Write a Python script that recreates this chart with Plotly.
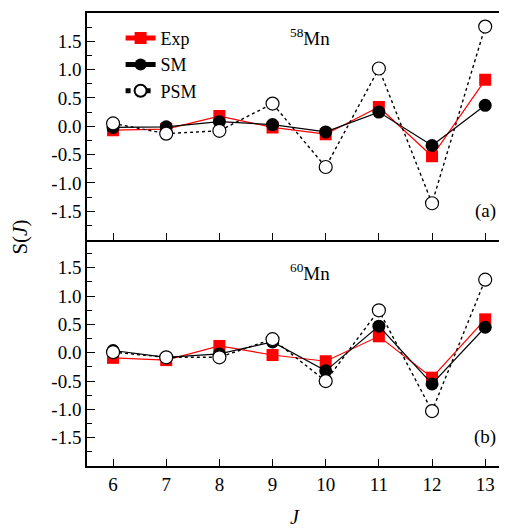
import plotly.graph_objects as go
from plotly.subplots import make_subplots

J = [6, 7, 8, 9, 10, 11, 12, 13]

# 58Mn (panel a)
exp_58 = [-0.07, -0.05, 0.18, -0.02, -0.14, 0.34, -0.53, 0.82]
sm_58 = [-0.02, -0.01, 0.08, 0.03, -0.10, 0.25, -0.34, 0.37]
psm_58 = [0.05, -0.13, -0.08, 0.40, -0.72, 1.02, -1.36, 1.76]

# 60Mn (panel b)
exp_60 = [-0.09, -0.13, 0.12, -0.04, -0.15, 0.29, -0.44, 0.59]
sm_60 = [0.04, -0.08, -0.02, 0.19, -0.32, 0.47, -0.55, 0.45]
psm_60 = [0.01, -0.08, -0.08, 0.24, -0.50, 0.75, -1.03, 1.29]

y_tickvals = [-1.5, -1.0, -0.5, 0.0, 0.5, 1.0, 1.5]
y_ticktext = ["-1.5", "-1.0", "-0.5", "0.0", "0.5", "1.0", "1.5"]

FONT = "Liberation Serif"
RED = "#ff0000"

fig = make_subplots(rows=2, cols=1, shared_xaxes=True, vertical_spacing=0)

def add_panel(row, exp, sm, psm, show):
    fig.add_trace(go.Scatter(
        x=J, y=exp, mode="lines+markers", name="Exp", showlegend=show,
        line=dict(color=RED, width=1.2),
        marker=dict(symbol="square", size=12, color=RED),
    ), row=row, col=1)
    fig.add_trace(go.Scatter(
        x=J, y=sm, mode="lines+markers", name="SM", showlegend=show,
        line=dict(color="black", width=1.2),
        marker=dict(symbol="circle", size=13, color="black"),
    ), row=row, col=1)
    fig.add_trace(go.Scatter(
        x=J, y=psm, mode="lines+markers", name="PSM", showlegend=show,
        line=dict(color="black", width=1.4, dash="dot"),
        marker=dict(symbol="circle", size=13, color="white",
                    line=dict(color="black", width=1.2)),
    ), row=row, col=1)

add_panel(1, exp_58, sm_58, psm_58, True)
add_panel(2, exp_60, sm_60, psm_60, False)

axis_common = dict(
    showline=True, linecolor="black", linewidth=1.5,
    ticks="inside", tickcolor="black", tickwidth=1.2,
    showgrid=False, zeroline=False,
    tickfont=dict(family=FONT, size=19, color="black"),
)

for r in (1, 2):
    fig.update_yaxes(
        range=[-2, 2], tickmode="array", tickvals=y_tickvals, ticktext=y_ticktext,
        ticklen=8,
        minor=dict(tickmode="linear", dtick=0.25, tick0=0, ticks="inside", ticklen=5,
                   tickcolor="black", tickwidth=1.2, showgrid=False),
        mirror=False, row=r, col=1, **axis_common,
    )
    fig.update_xaxes(
        range=[5.51, 13.41], tickmode="array", tickvals=J,
        ticktext=[str(j) for j in J], ticklen=7,
        mirror=(r == 1), row=r, col=1, **axis_common,
    )

fig.update_xaxes(showticklabels=False, row=1, col=1)

def label(text, x, y, size=19, angle=0):
    return dict(text=text, x=x, y=y, xref="paper", yref="paper",
                xanchor="center", yanchor="middle", textangle=angle,
                showarrow=False, font=dict(family=FONT, size=size, color="black"))

annotations = [
    label("<sup>58</sup>Mn", 0.531, 0.947),
    label("<sup>60</sup>Mn", 0.531, 0.428),
    label("(a)", 0.948, 0.563),
    label("(b)", 0.948, 0.064),
    label("<i>J</i>", 0.495, -0.113, size=20),
    label("S(<i>J</i>)", -0.160, 0.506, size=21, angle=-90),
]

fig.update_layout(
    width=499, height=522,
    margin=dict(l=79, r=0, t=5, b=64),
    paper_bgcolor="white", plot_bgcolor="white",
    font=dict(family=FONT, size=19, color="black"),
    annotations=annotations,
    legend=dict(x=0.08, y=0.985, xanchor="left", yanchor="top",
                bgcolor="rgba(0,0,0,0)", borderwidth=0,
                font=dict(family=FONT, size=18, color="black"),
                tracegroupgap=0, itemsizing="constant"),
)

fig.write_html("out.html")
